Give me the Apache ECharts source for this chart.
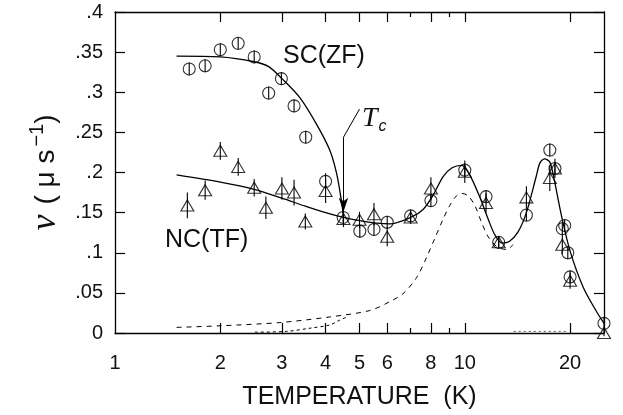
<!DOCTYPE html>
<html>
<head>
<meta charset="utf-8">
<script src="https://cdn.jsdelivr.net/npm/echarts@6/dist/echarts.min.js"></script>
<style>
  html, body { margin: 0; padding: 0; background: #fff; }
  #chart { width: 623px; height: 415px; }
</style>
</head>
<body>
<div id="chart"></div>
<script>
// SC(ZF) circles
const scTemp = [1.63, 1.81, 2.00, 2.25, 2.50, 2.75, 2.99, 3.25, 3.51, 4.00, 4.49, 5.01, 5.50, 6.00, 7.00, 8.00, 10.0, 11.5, 12.5, 15.0, 17.5, 18.1, 19.0, 19.3, 19.7, 20.0, 25.0];
const scNu = [0.329, 0.333, 0.353, 0.361, 0.344, 0.299, 0.317, 0.283, 0.244, 0.189, 0.144, 0.127, 0.129, 0.138, 0.146, 0.165, 0.203, 0.170, 0.113, 0.147, 0.228, 0.205, 0.130, 0.134, 0.100, 0.070, 0.012];
const scErr = [0.008, 0.008, 0.008, 0.008, 0.008, 0.008, 0.008, 0.008, 0.008, 0.010, 0.008, 0.008, 0.008, 0.008, 0.008, 0.008, 0.008, 0.008, 0.008, 0.008, 0.008, 0.008, 0.008, 0.008, 0.008, 0.008, 0.008];

// NC(TF) triangles
const ncTemp = [1.61, 1.81, 2.00, 2.25, 2.50, 2.70, 3.00, 3.25, 3.50, 4.00, 4.50, 5.00, 5.50, 6.00, 7.00, 8.00, 10.0, 11.5, 12.5, 15.0, 17.5, 18.1, 19.0, 20.0, 25.0];
const ncNu = [0.159, 0.178, 0.227, 0.207, 0.181, 0.156, 0.180, 0.175, 0.139, 0.177, 0.142, 0.141, 0.148, 0.120, 0.144, 0.180, 0.201, 0.162, 0.113, 0.169, 0.193, 0.205, 0.110, 0.065, 0.0];
const ncErr = [0.016, 0.012, 0.011, 0.011, 0.011, 0.014, 0.014, 0.016, 0.010, 0.015, 0.010, 0.010, 0.014, 0.012, 0.008, 0.014, 0.014, 0.012, 0.008, 0.014, 0.016, 0.012, 0.012, 0.010, 0.004];

// fitted curves
const scFitT = [1.5, 2.0, 2.5, 2.75, 3.0, 3.38, 3.77, 4.11, 4.3, 4.42, 4.5];
const scFitV = [0.345, 0.344, 0.338, 0.332, 0.317, 0.293, 0.260, 0.228, 0.199, 0.170, 0.146];
const ncFitT = [1.5, 2.0, 2.5, 3.0, 3.5, 4.0, 4.5, 5.0, 5.6, 6.1, 7.0, 7.6, 8.1, 8.67, 9.2, 9.8, 10.3, 11.0, 11.66, 12.2, 12.8, 13.4, 14.2, 15.0, 16.0, 16.4, 16.9, 17.5, 17.9, 18.9, 20.0, 21.8, 23.7, 25.0];
const ncFitV = [0.197, 0.188, 0.179, 0.168, 0.158, 0.150, 0.144, 0.140, 0.137, 0.136, 0.144, 0.154, 0.171, 0.195, 0.206, 0.209, 0.198, 0.171, 0.142, 0.122, 0.112, 0.114, 0.126, 0.150, 0.195, 0.212, 0.217, 0.213, 0.197, 0.146, 0.102, 0.057, 0.028, 0.012];

// dashed components
const dashAT = [1.5, 2.0, 2.96, 4.11, 5.35, 6.1, 6.66, 7.28, 7.77, 8.21, 8.67, 9.06, 9.47, 9.79, 10.22, 10.68, 11.16, 11.66, 12.32, 13.15, 13.74];
const dashAV = [0.007, 0.009, 0.013, 0.020, 0.028, 0.039, 0.049, 0.069, 0.094, 0.118, 0.142, 0.159, 0.171, 0.174, 0.171, 0.159, 0.138, 0.120, 0.108, 0.104, 0.110];
const dashBT = [2.51, 3.09, 3.61, 4.11, 4.39, 4.6];
const dashBV = [0.001, 0.002, 0.006, 0.010, 0.016, 0.020];
const dashCT = [13.8, 16.0, 19.5];
const dashCV = [0.002, 0.002, 0.002];

const xLabels = [1, 2, 3, 4, 5, 6, 8, 10, 20];
const xMajorTicks = [2, 3, 4, 5, 6, 8, 10, 20];
const xMinorTicks = [7, 9];

const FONT = "'Liberation Sans', Arial, sans-serif";
const zip = (a, b) => a.map((v, i) => [v, b[i]]);
const zip3 = (a, b, c) => a.map((v, i) => [v, b[i], c[i]]);

const chart = echarts.init(document.getElementById('chart'), null, { renderer: 'canvas' });

function xAxisDef(pos, ticks, len, showLine, showLabel) {
  return {
    type: 'log',
    logBase: 10,
    min: 1,
    max: 25,
    position: pos,
    axisLine: { show: showLine, onZero: false, lineStyle: { color: '#000', width: 1.3 } },
    axisTick: { show: true, inside: true, length: len, customValues: ticks, lineStyle: { color: '#000', width: 1.2 } },
    axisLabel: {
      show: showLabel,
      customValues: xLabels,
      margin: 20,
      color: '#111',
      fontSize: 20,
      fontFamily: FONT,
    },
    splitLine: { show: false },
    minorTick: { show: false },
  };
}

function errorBars(name, data) {
  return {
    name: name + '-err',
    type: 'custom',
    z: 4,
    silent: true,
    clip: false,
    renderItem: (params, api) => {
      const t = api.value(0), v = api.value(1), e = api.value(2);
      const p1 = api.coord([t, v - e]);
      const p2 = api.coord([t, v + e]);
      return {
        type: 'line',
        shape: { x1: p1[0], y1: p1[1], x2: p2[0], y2: p2[1] },
        style: { stroke: '#000', lineWidth: 1.1 },
      };
    },
    data: data,
  };
}

const option = {
  backgroundColor: '#fff',
  animation: false,
  grid: { left: 115, right: 19, top: 12, bottom: 75 },
  xAxis: [
    Object.assign(xAxisDef('bottom', xMajorTicks, 10, true, true), {
      name: 'TEMPERATURE  (K)',
      nameLocation: 'middle',
      nameGap: 52,
      nameTextStyle: { color: '#111', fontSize: 25, fontFamily: FONT },
    }),
    xAxisDef('bottom', xMinorTicks, 5, false, false),
    xAxisDef('top', xMajorTicks, 10, true, false),
    xAxisDef('top', xMinorTicks, 5, false, false),
  ],
  yAxis: [
    {
      type: 'value',
      min: 0,
      max: 0.4,
      interval: 0.05,
      position: 'left',
      axisLine: { show: true, lineStyle: { color: '#000', width: 1.3 } },
      axisTick: { show: true, inside: true, length: 10, lineStyle: { color: '#000', width: 1.2 } },
      axisLabel: {
        margin: 12,
        color: '#111',
        fontSize: 20,
        fontFamily: FONT,
        formatter: (v) => (v === 0 ? '0' : String(+v.toFixed(2)).replace(/^0\./, '.')),
      },
      splitLine: { show: false },
      name: '{nu|ν}   {p|( μ s}{sup|−1}{p|)}',
      nameLocation: 'middle',
      nameGap: 50,
      nameRotate: 90,
      nameTextStyle: {
        color: '#111',
        rich: {
          nu: { fontFamily: "'Liberation Serif', serif", fontStyle: 'italic', fontSize: 36, color: '#111' },
          p: { fontFamily: FONT, fontSize: 28, color: '#111' },
          sup: { fontFamily: FONT, fontSize: 20, color: '#111', padding: [0, 0, 18, 3] },
        },
      },
    },
    {
      type: 'value',
      min: 0,
      max: 0.4,
      interval: 0.05,
      position: 'right',
      axisLine: { show: true, lineStyle: { color: '#000', width: 1.3 } },
      axisTick: { show: true, inside: true, length: 10, lineStyle: { color: '#000', width: 1.2 } },
      axisLabel: { show: false },
      splitLine: { show: false },
    },
  ],
  series: [
    {
      name: 'SC fit',
      type: 'line',
      smooth: 0.3,
      symbol: 'none',
      lineStyle: { color: '#000', width: 1.3 },
      data: zip(scFitT, scFitV),
      markLine: {
        silent: true,
        symbol: 'none',
        lineStyle: { color: '#000', width: 1, type: 'solid' },
        label: { show: false },
        data: [
          [{ coord: [5.0, 0.279] }, { coord: [4.5, 0.244] }],
          [{ coord: [4.5, 0.244] }, { coord: [4.5, 0.151], symbol: 'arrow', symbolSize: [7, 14] }],
        ],
      },
    },
    {
      name: 'NC fit',
      type: 'line',
      smooth: 0.3,
      symbol: 'none',
      lineStyle: { color: '#000', width: 1.3 },
      data: zip(ncFitT, ncFitV),
    },
    {
      name: 'dash A',
      type: 'line',
      smooth: 0.3,
      symbol: 'none',
      lineStyle: { color: '#000', width: 1, type: [5, 5] },
      data: zip(dashAT, dashAV),
    },
    {
      name: 'dash B',
      type: 'line',
      smooth: 0.3,
      symbol: 'none',
      lineStyle: { color: '#000', width: 1, type: [3, 3] },
      data: zip(dashBT, dashBV),
    },
    {
      name: 'dash C',
      type: 'line',
      symbol: 'none',
      lineStyle: { color: '#555', width: 1, type: [2, 3] },
      data: zip(dashCT, dashCV),
    },
    {
      name: 'SC(ZF)',
      type: 'scatter',
      symbol: 'circle',
      symbolSize: 12,
      z: 3,
      clip: false,
      itemStyle: { color: 'transparent', borderColor: '#000', borderWidth: 1.1 },
      data: zip(scTemp, scNu),
    },
    {
      name: 'NC(TF)',
      type: 'scatter',
      symbol: 'triangle',
      symbolSize: [13, 11],
      z: 3,
      clip: false,
      itemStyle: { color: 'transparent', borderColor: '#000', borderWidth: 1.1 },
      data: zip(ncTemp, ncNu),
    },
    errorBars('SC', zip3(scTemp, scNu, scErr)),
    errorBars('NC', zip3(ncTemp, ncNu, ncErr)),
  ],
  graphic: [
    {
      type: 'text',
      left: 283,
      top: 44,
      style: { text: 'SC(ZF)', fill: '#111', font: "25px 'Liberation Sans', sans-serif" },
    },
    {
      type: 'text',
      left: 165,
      top: 228,
      style: { text: 'NC(TF)', fill: '#111', font: "25px 'Liberation Sans', sans-serif" },
    },
    {
      type: 'text',
      left: 362,
      top: 105,
      style: {
        text: '{t|T}{c|c}',
        rich: {
          t: { fontFamily: "'Liberation Serif', serif", fontStyle: 'italic', fontSize: 28, fill: '#111' },
          c: { fontFamily: FONT, fontStyle: 'italic', fontSize: 16, fill: '#111', padding: [16, 0, 0, 1] },
        },
      },
    },
  ],
};

chart.setOption(option);
</script>
</body>
</html>
